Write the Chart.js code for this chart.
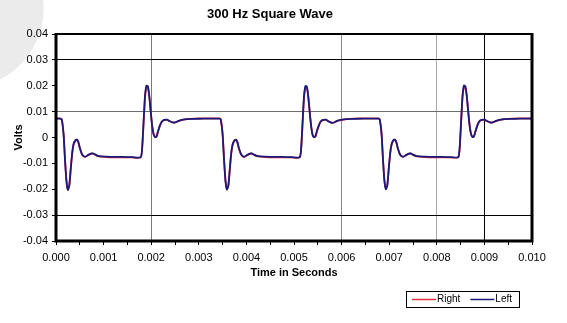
<!DOCTYPE html>
<html>
<head>
<meta charset="utf-8">
<title>300 Hz Square Wave</title>
<script src="https://cdn.jsdelivr.net/npm/chart.js@4.4.1/dist/chart.umd.min.js"></script>
<style>
  html, body { margin: 0; padding: 0; background: #fff; }
  #wrap {
    position: relative;
    width: 567px;
    height: 323px;
    background: radial-gradient(circle 81px at -37px 8px, #ebebeb 99%, #ffffff 100%);
  }
</style>
</head>
<body>
<div id="wrap"><canvas id="waveChart"></canvas></div>
<script>
// --- Dati della forma d'onda (tempo in secondi, tensione in volt) ---
const timeSec = [
  0.00000, 0.00008, 0.00012, 0.00016, 0.00019, 0.00022, 0.00025, 0.00028, 0.00031, 0.00034,
  0.00037, 0.00041, 0.00044, 0.00047, 0.00050, 0.00054, 0.00058, 0.00062, 0.00067, 0.00072,
  0.00077, 0.00082, 0.00088, 0.00095, 0.00105, 0.00120, 0.00140, 0.00160, 0.00178, 0.00181,
  0.00184, 0.00187, 0.00190, 0.00193, 0.00196, 0.00199, 0.00202, 0.00205, 0.00208, 0.00211,
  0.00214, 0.00218, 0.00222, 0.00227, 0.00233, 0.00239, 0.00245, 0.00250, 0.00256, 0.00264,
  0.00275, 0.00290, 0.00310, 0.00330, 0.00343,
  0.00346, 0.00350, 0.00353, 0.00356, 0.00359, 0.00362, 0.00365, 0.00368, 0.00371, 0.00375,
  0.00378, 0.00381, 0.00384, 0.00388, 0.00392, 0.00396, 0.00401, 0.00406, 0.00411, 0.00416,
  0.00422, 0.00429, 0.00440, 0.00455, 0.00475, 0.00495, 0.00512, 0.00515, 0.00518, 0.00521,
  0.00524, 0.00527, 0.00530, 0.00533, 0.00536, 0.00539, 0.00542, 0.00545, 0.00548, 0.00552,
  0.00556, 0.00561, 0.00567, 0.00573, 0.00579, 0.00584, 0.00590, 0.00598, 0.00610, 0.00625,
  0.00645, 0.00665, 0.00677,
  0.00680, 0.00684, 0.00687, 0.00690, 0.00693, 0.00696, 0.00699, 0.00702, 0.00705, 0.00709,
  0.00712, 0.00715, 0.00718, 0.00722, 0.00726, 0.00730, 0.00735, 0.00740, 0.00745, 0.00750,
  0.00756, 0.00763, 0.00775, 0.00790, 0.00810, 0.00830, 0.00845, 0.00848, 0.00851, 0.00854,
  0.00857, 0.00860, 0.00863, 0.00866, 0.00869, 0.00872, 0.00875, 0.00878, 0.00881, 0.00885,
  0.00889, 0.00894, 0.00900, 0.00906, 0.00912, 0.00917, 0.00923, 0.00931, 0.00943, 0.00958,
  0.00975, 0.01000
];

const rightVolts = [
  0.0074, 0.0074, 0.0071, 0.0012, -0.0086, -0.0166, -0.0199, -0.0183, -0.0121, -0.0062,
  -0.0027, -0.0012, -0.0010, -0.0019, -0.0041, -0.0063, -0.0073, -0.0075, -0.0069, -0.0064,
  -0.0062, -0.0066, -0.0072, -0.0074, -0.0076, -0.0077, -0.0077, -0.0077, -0.0077, -0.0042,
  0.0055, 0.0154, 0.0194, 0.0194, 0.0158, 0.0100, 0.0046, 0.0014, 0.0003, 0.0004,
  0.0021, 0.0044, 0.0060, 0.0067, 0.0068, 0.0063, 0.0058, 0.0058, 0.0062, 0.0067,
  0.0071, 0.0073, 0.0074, 0.0074, 0.0074,
  0.0071, 0.0014, -0.0082, -0.0164, -0.0197, -0.0186, -0.0126, -0.0064, -0.0029, -0.0013,
  -0.0010, -0.0018, -0.0041, -0.0062, -0.0073, -0.0075, -0.0069, -0.0064, -0.0062, -0.0067,
  -0.0072, -0.0074, -0.0076, -0.0077, -0.0077, -0.0077, -0.0077, -0.0044, 0.0053, 0.0152,
  0.0193, 0.0193, 0.0156, 0.0098, 0.0045, 0.0012, 0.0002, 0.0005, 0.0023, 0.0045,
  0.0061, 0.0067, 0.0068, 0.0062, 0.0057, 0.0058, 0.0063, 0.0067, 0.0071, 0.0073,
  0.0074, 0.0074, 0.0074,
  0.0071, 0.0014, -0.0085, -0.0165, -0.0196, -0.0184, -0.0123, -0.0063, -0.0028, -0.0012,
  -0.0010, -0.0019, -0.0042, -0.0063, -0.0073, -0.0075, -0.0069, -0.0064, -0.0062, -0.0067,
  -0.0072, -0.0074, -0.0076, -0.0077, -0.0077, -0.0077, -0.0077, -0.0042, 0.0055, 0.0154,
  0.0195, 0.0194, 0.0158, 0.0100, 0.0046, 0.0014, 0.0003, 0.0005, 0.0022, 0.0045,
  0.0061, 0.0067, 0.0068, 0.0063, 0.0058, 0.0058, 0.0062, 0.0067, 0.0071, 0.0073,
  0.0074, 0.0074
];

const leftVolts = [
  0.0073, 0.0073, 0.0070, 0.0010, -0.0090, -0.0170, -0.0203, -0.0185, -0.0120, -0.0060,
  -0.0025, -0.0010, -0.0008, -0.0018, -0.0040, -0.0062, -0.0072, -0.0074, -0.0068, -0.0063,
  -0.0061, -0.0065, -0.0071, -0.0073, -0.0074, -0.0075, -0.0075, -0.0076, -0.0076, -0.0040,
  0.0060, 0.0160, 0.0200, 0.0198, 0.0160, 0.0100, 0.0045, 0.0012, 0.0002, 0.0003,
  0.0022, 0.0045, 0.0061, 0.0068, 0.0069, 0.0063, 0.0058, 0.0058, 0.0063, 0.0068,
  0.0071, 0.0072, 0.0073, 0.0073, 0.0073,
  0.0070, 0.0012, -0.0085, -0.0168, -0.0201, -0.0188, -0.0125, -0.0062, -0.0027, -0.0011,
  -0.0008, -0.0017, -0.0040, -0.0061, -0.0072, -0.0074, -0.0068, -0.0063, -0.0061, -0.0066,
  -0.0071, -0.0073, -0.0074, -0.0075, -0.0075, -0.0076, -0.0076, -0.0042, 0.0058, 0.0158,
  0.0199, 0.0197, 0.0158, 0.0098, 0.0044, 0.0010, 0.0001, 0.0004, 0.0024, 0.0046,
  0.0062, 0.0068, 0.0069, 0.0062, 0.0057, 0.0058, 0.0064, 0.0068, 0.0071, 0.0072,
  0.0073, 0.0073, 0.0073,
  0.0070, 0.0012, -0.0088, -0.0168, -0.0200, -0.0186, -0.0122, -0.0061, -0.0026, -0.0010,
  -0.0008, -0.0018, -0.0041, -0.0062, -0.0072, -0.0074, -0.0068, -0.0063, -0.0061, -0.0066,
  -0.0071, -0.0073, -0.0074, -0.0075, -0.0075, -0.0076, -0.0076, -0.0040, 0.0060, 0.0160,
  0.0201, 0.0198, 0.0160, 0.0100, 0.0045, 0.0012, 0.0002, 0.0004, 0.0023, 0.0046,
  0.0062, 0.0068, 0.0069, 0.0063, 0.0058, 0.0058, 0.0063, 0.0068, 0.0071, 0.0072,
  0.0073, 0.0073
];

// Righe della griglia visibili (le altre restano trasparenti)
const xGridLines = { '0.0020': '#7a7a7a', '0.0060': '#8a8a8a', '0.0080': '#a8a8a8', '0.0090': '#000000' };
const yGridLines = { '0.030': '#000000', '0.010': '#6e6e6e', '-0.030': '#000000' };

const FONT = "'Liberation Sans', Arial, Helvetica, sans-serif";

function toPoints(values) {
  return values.map((v, i) => ({ x: timeSec[i], y: v }));
}

// Cornice dell'area del grafico
const plotFrame = {
  id: 'plotFrame',
  afterDatasetsDraw(chart) {
    const { ctx, chartArea: a } = chart;
    ctx.save();
    ctx.strokeStyle = '#000';
    ctx.lineWidth = 2;
    ctx.beginPath();
    ctx.moveTo(a.left, a.top);
    ctx.lineTo(a.right, a.top);
    ctx.stroke();
    ctx.lineWidth = 3;
    ctx.beginPath();
    ctx.moveTo(a.left, a.top - 1);
    ctx.lineTo(a.left, a.bottom);
    ctx.lineTo(a.right, a.bottom);
    ctx.lineTo(a.right, a.top - 1);
    ctx.stroke();
    ctx.restore();
  }
};

// Legenda in basso a destra con riquadro
const boxedLegend = {
  id: 'boxedLegend',
  afterDraw(chart) {
    const { ctx } = chart;
    const left = 406, top = 291, width = 113, height = 16;
    ctx.save();
    ctx.fillStyle = '#fff';
    ctx.fillRect(left, top, width, height);
    ctx.strokeStyle = '#000';
    ctx.lineWidth = 1;
    ctx.strokeRect(left + 0.5, top + 0.5, width, height);
    ctx.font = '10px ' + FONT;
    ctx.textBaseline = 'middle';
    ctx.fillStyle = '#000';
    let x = left + 6;
    const y = top + height / 2 + 0.5;
    chart.data.datasets.forEach(ds => {
      ctx.strokeStyle = ds.borderColor;
      ctx.lineWidth = 1.5;
      ctx.beginPath();
      ctx.moveTo(x, y);
      ctx.lineTo(x + 24, y);
      ctx.stroke();
      ctx.fillText(ds.label, x + 25, y);
      x += 25 + ctx.measureText(ds.label).width + 10;
    });
    ctx.restore();
  }
};

const ctx = document.getElementById('waveChart').getContext('2d');

new Chart(ctx, {
  type: 'line',
  data: {
    datasets: [
      {
        label: 'Right',
        data: toPoints(rightVolts),
        borderColor: '#e0303c',
        borderWidth: 1.8,
        pointRadius: 0,
        tension: 0.2,
        order: 1
      },
      {
        label: 'Left',
        data: toPoints(leftVolts),
        borderColor: '#1c1a78',
        borderWidth: 1.8,
        pointRadius: 0,
        tension: 0.2,
        order: 0
      }
    ]
  },
  options: {
    responsive: true,
    maintainAspectRatio: false,
    animation: false,
    layout: { padding: { left: 8, right: 35, top: 0, bottom: 40 } },
    scales: {
      x: {
        type: 'linear',
        min: 0,
        max: 0.01,
        afterFit: s => { s.height = 42; },
        ticks: {
          stepSize: 0.0005,
          autoSkip: false,
          maxRotation: 0,
          padding: 6,
          color: '#000',
          font: { family: FONT, size: 11 },
          callback: v => {
            const m = v * 1000;
            return Math.abs(m - Math.round(m)) < 1e-6 ? v.toFixed(3) : '';
          }
        },
        grid: {
          color: c => (c.tick ? xGridLines[c.tick.value.toFixed(4)] : undefined) || 'rgba(0,0,0,0)',
          tickColor: '#000',
          tickLength: 4,
          lineWidth: 1
        },
        border: { display: false },
        title: {
          display: true,
          text: 'Time in Seconds',
          color: '#000',
          font: { family: FONT, size: 11, weight: 'bold' },
          padding: { top: 0, bottom: 3 }
        }
      },
      y: {
        min: -0.04,
        max: 0.04,
        afterFit: s => { s.width = 48; },
        ticks: {
          stepSize: 0.01,
          padding: 4,
          color: '#000',
          font: { family: FONT, size: 11 },
          callback: v => Math.abs(v) < 1e-9 ? '0' : v.toFixed(2)
        },
        grid: {
          color: c => (c.tick ? yGridLines[c.tick.value.toFixed(3)] : undefined) || 'rgba(0,0,0,0)',
          tickColor: '#000',
          tickLength: 4,
          lineWidth: 1
        },
        border: { display: false },
        title: {
          display: true,
          text: 'Volts',
          color: '#000',
          font: { family: FONT, size: 11, weight: 'bold' },
          padding: { top: 4, bottom: 0 }
        }
      }
    },
    plugins: {
      legend: { display: false },
      tooltip: { enabled: false },
      title: {
        display: true,
        text: '300 Hz Square Wave',
        color: '#000',
        font: { family: FONT, size: 13, weight: 'bold' },
        padding: { top: 7, bottom: 11.4 }
      }
    }
  },
  plugins: [plotFrame, boxedLegend]
});
</script>
</body>
</html>
